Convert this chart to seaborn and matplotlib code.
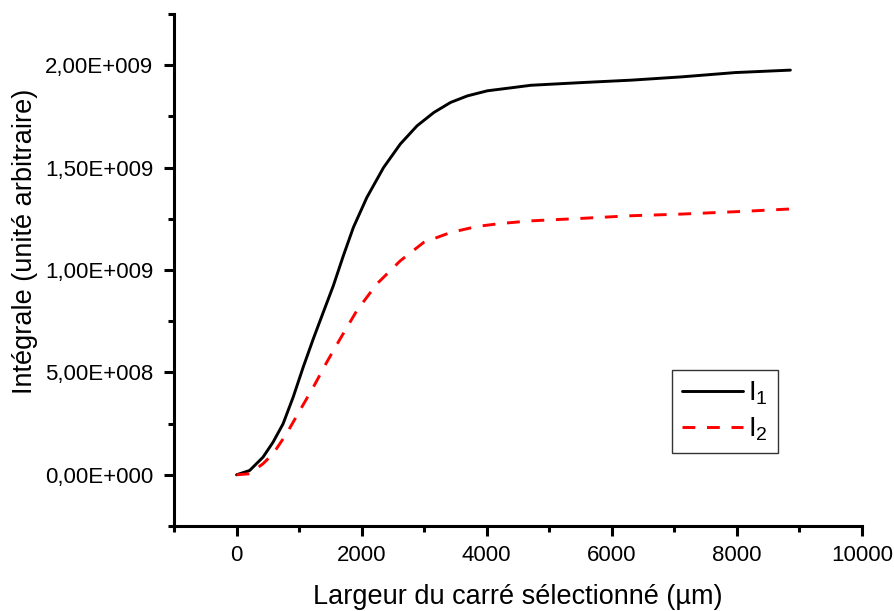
import matplotlib
matplotlib.use("Agg")
import matplotlib.pyplot as plt
import matplotlib.ticker as mticker
import numpy as np
import seaborn as sns

# Data (x in µm, y in units of 1e9)
x1 = [0, 209, 423, 583, 744, 905, 1065, 1226, 1386, 1547, 1708, 1868, 2083, 2350, 2618,
      2886, 3154, 3421, 3689, 4010, 4400, 4706, 5509, 6312, 7115, 7971, 8855]
i1 = [0.000, 0.021, 0.086, 0.159, 0.249, 0.379, 0.525, 0.663, 0.793, 0.923, 1.070, 1.208,
      1.354, 1.500, 1.615, 1.704, 1.769, 1.818, 1.850, 1.875, 1.890, 1.902, 1.915, 1.927,
      1.943, 1.964, 1.976]
x2 = [0, 209, 423, 583, 798, 1012, 1226, 1441, 1655, 1922, 2243, 2618, 2993, 3421, 3850,
      4224, 4706, 5509, 6312, 7115, 8079, 8855]
i2 = [0.000, 0.005, 0.054, 0.102, 0.200, 0.314, 0.427, 0.549, 0.663, 0.801, 0.932, 1.045,
      1.135, 1.183, 1.213, 1.227, 1.240, 1.252, 1.265, 1.273, 1.286, 1.298]
scale = 1e9
series_labels = ["I$_1$", "I$_2$"]
x_title = "Largeur du carré sélectionné (µm)"
y_title = "Intégrale (unité arbitraire)"
x_major = [0, 2000, 4000, 6000, 8000, 10000]
x_minor = [-1000, 1000, 3000, 5000, 7000, 9000]
y_major = [0, 5e8, 1e9, 1.5e9, 2e9]
y_minor = [-2.5e8, 2.5e8, 7.5e8, 1.25e9, 1.75e9, 2.25e9]

sns.set_style("ticks")
plt.rcParams["font.family"] = ["Liberation Sans", "DejaVu Sans"]
plt.rcParams["mathtext.fontset"] = "custom"
plt.rcParams["mathtext.rm"] = "Liberation Sans"
plt.rcParams["mathtext.it"] = "Liberation Sans"
plt.rcParams["mathtext.default"] = "regular"
plt.rcParams["text.color"] = "black"
plt.rcParams["axes.labelcolor"] = "black"

fig = plt.figure(figsize=(8.95, 6.11), dpi=100)
ax = fig.add_axes([174/895, 85/611, (862-174)/895, (526-14)/611])

sns.lineplot(x=x1, y=[v * scale for v in i1], ax=ax, color="black", linewidth=2.1,
             label=series_labels[0])
sns.lineplot(x=x2, y=[v * scale for v in i2], ax=ax, color="#ff0000", linewidth=2.1,
             linestyle=(0, (4.4, 4.0)), label=series_labels[1])

ax.set_xlim(-1000, 10000)
ax.set_ylim(-2.5e8, 2.25e9)
ax.xaxis.set_major_locator(mticker.FixedLocator(x_major))
ax.xaxis.set_minor_locator(mticker.FixedLocator(x_minor))
ax.yaxis.set_major_locator(mticker.FixedLocator(y_major))
ax.yaxis.set_minor_locator(mticker.FixedLocator(y_minor))

def yfmt(v, pos):
    if v == 0:
        return "0,00E+000"
    e = int(np.floor(np.log10(abs(v))))
    m = v / 10**e
    return f"{m:.2f}".replace(".", ",") + f"E+{e:03d}"

ax.yaxis.set_major_formatter(mticker.FuncFormatter(yfmt))
ax.xaxis.set_major_formatter(mticker.FuncFormatter(lambda v, p: f"{int(v)}"))

for s in ["top", "right"]:
    ax.spines[s].set_visible(False)
for s in ["left", "bottom"]:
    ax.spines[s].set_linewidth(2.2)
    ax.spines[s].set_color("black")
ax.tick_params(which="major", direction="out", length=7, width=2.2, labelsize=16,
               colors="black")
ax.tick_params(which="minor", direction="out", length=4, width=2.2, colors="black")
ax.tick_params(axis="y", which="major", pad=8)
ax.tick_params(axis="x", which="major", pad=7)

ax.set_xlabel(x_title, fontsize=19.5, labelpad=13, color="black")
ax.set_ylabel(y_title, fontsize=19.5, color="black")
ax.yaxis.set_label_coords(-0.197, 0.555)

leg = ax.legend(loc="upper left", bbox_to_anchor=((672-174)/688, (526-370)/512),
                frameon=True, fancybox=False, edgecolor="black", fontsize=20,
                handlelength=2.2, borderpad=0.35, labelspacing=0.3, handletextpad=0.2,
                borderaxespad=0)
leg.get_frame().set_linewidth(1.0)

fig.savefig("out.png", dpi=100, facecolor="white")
